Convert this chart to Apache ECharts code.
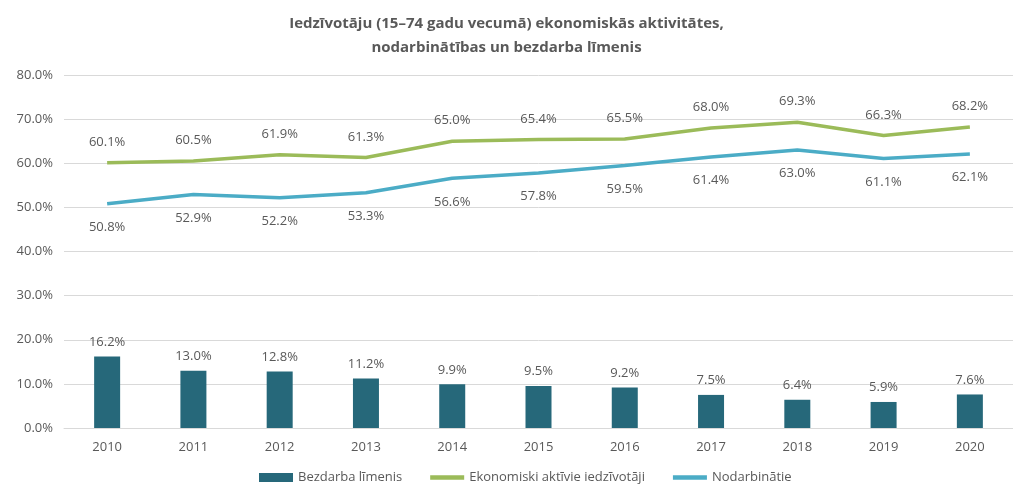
<!DOCTYPE html>
<html>
<head>
<meta charset="utf-8">
<script src="https://cdn.jsdelivr.net/npm/echarts@6/dist/echarts.min.js"></script>
<style>
  html, body { margin: 0; padding: 0; background: #fff; }
  #chart { width: 1013px; height: 490px; }
</style>
</head>
<body>
<div id="chart"></div>
<script>
// gadi
var years = ['2010', '2011', '2012', '2013', '2014', '2015', '2016', '2017', '2018', '2019', '2020'];
// rādītāji, %
var bezdarbs = [16.2, 13.0, 12.8, 11.2, 9.9, 9.5, 9.2, 7.5, 6.4, 5.9, 7.6];
var aktivie = [60.1, 60.5, 61.9, 61.3, 65.0, 65.4, 65.5, 68.0, 69.3, 66.3, 68.2];
var nodarbinatie = [50.8, 52.9, 52.2, 53.3, 56.6, 57.8, 59.5, 61.4, 63.0, 61.1, 62.1];

var fontName = 'Open Sans';
var textGrey = '#595959';
var lineIcon = 'path://M0,0 L30,0 L30,4 L0,4 Z';

function pct(p) { return p.value.toFixed(1) + '%'; }

var option = {
    animation: false,
    backgroundColor: '#fff',
    textStyle: { fontFamily: fontName },
    title: {
        text: 'Iedzīvotāju (15–74 gadu vecumā) ekonomiskās aktivitātes,\nnodarbinātības un bezdarba līmenis',
        left: 'center',
        top: 7,
        textStyle: {
            fontFamily: fontName,
            fontSize: 15,
            fontWeight: 'bold',
            color: textGrey,
            lineHeight: 24
        }
    },
    legend: {
        bottom: 1,
        left: 254,
        itemGap: 28,
        itemWidth: 34,
        itemHeight: 9,
        textStyle: { fontFamily: fontName, fontSize: 13, color: textGrey },
        data: [
            { name: 'Bezdarba līmenis', icon: 'rect' },
            { name: 'Ekonomiski aktīvie iedzīvotāji', icon: lineIcon },
            { name: 'Nodarbinātie', icon: lineIcon }
        ]
    },
    grid: {
        left: 64,
        top: 75,
        width: 957,
        height: 353
    },
    xAxis: {
        type: 'category',
        data: years,
        axisLine: { lineStyle: { color: '#d9d9d9', width: 1 } },
        axisTick: { show: false },
        axisLabel: { color: textGrey, fontSize: 13, margin: 13 }
    },
    yAxis: {
        type: 'value',
        min: 0,
        max: 80,
        interval: 10,
        axisLine: { show: false },
        axisTick: { show: false },
        splitLine: { lineStyle: { color: '#d9d9d9', width: 1 } },
        axisLabel: {
            color: textGrey,
            fontSize: 13,
            margin: 11,
            formatter: function (v) { return v.toFixed(1) + '%'; }
        }
    },
    series: [
        {
            name: 'Bezdarba līmenis',
            type: 'bar',
            data: bezdarbs,
            barWidth: 26,
            itemStyle: { color: '#26687a' },
            label: {
                show: true,
                position: 'top',
                distance: 8,
                color: textGrey,
                fontSize: 13,
                formatter: pct
            }
        },
        {
            name: 'Ekonomiski aktīvie iedzīvotāji',
            type: 'line',
            data: aktivie,
            symbol: 'circle',
            symbolSize: 0.1,
            showSymbol: true,
            lineStyle: { color: '#9bbb59', width: 3.5 },
            itemStyle: { color: '#9bbb59' },
            label: {
                show: true,
                position: 'top',
                distance: 14,
                color: textGrey,
                fontSize: 13,
                formatter: pct
            }
        },
        {
            name: 'Nodarbinātie',
            type: 'line',
            data: nodarbinatie,
            symbol: 'circle',
            symbolSize: 0.1,
            showSymbol: true,
            lineStyle: { color: '#4bacc6', width: 3.5 },
            itemStyle: { color: '#4bacc6' },
            label: {
                show: true,
                position: 'bottom',
                distance: 17,
                color: textGrey,
                fontSize: 13,
                formatter: pct
            }
        }
    ]
};

echarts.init(document.getElementById('chart')).setOption(option);
</script>
</body>
</html>
